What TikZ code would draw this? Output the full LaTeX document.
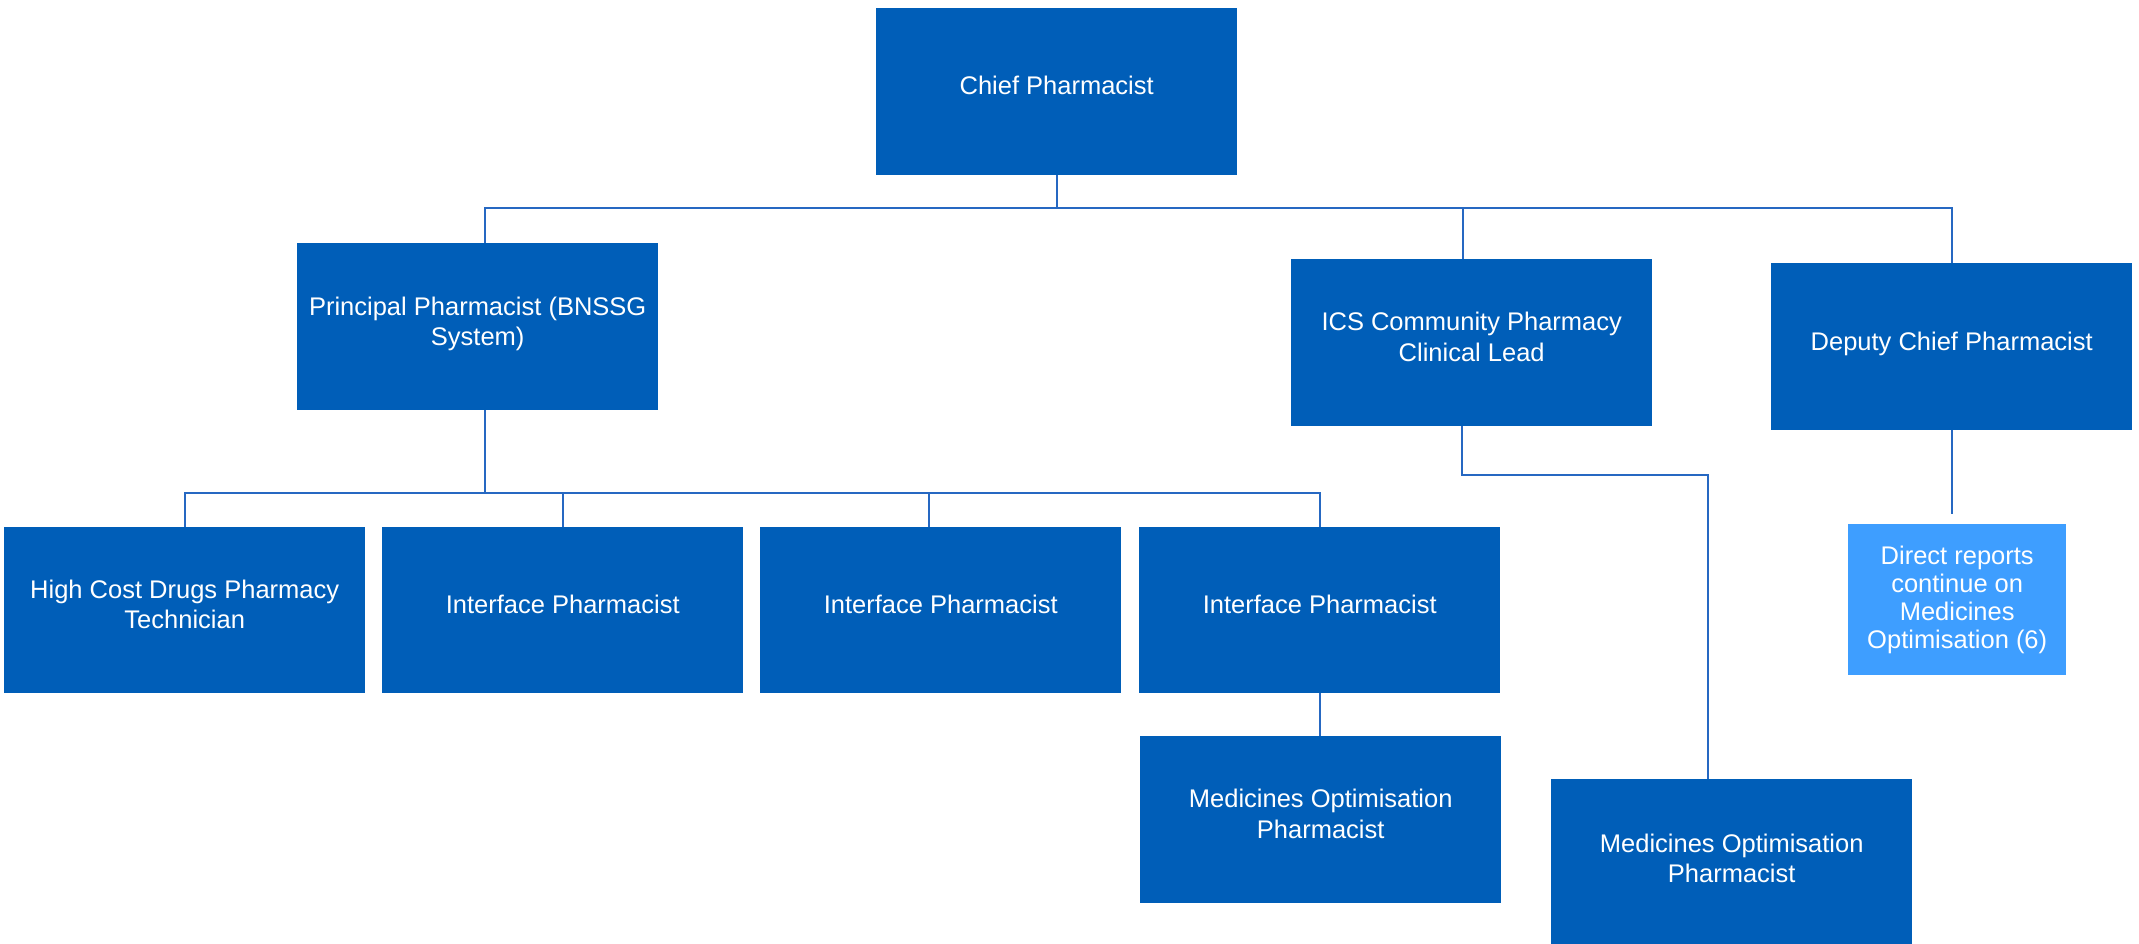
\documentclass[tikz,border=0pt]{standalone}
\usepackage{fontspec}
\setmainfont{Liberation Sans}
\definecolor{boxblue}{RGB}{0,94,184}
\definecolor{lightbox}{RGB}{62,158,255}
\definecolor{linecol}{RGB}{38,104,194}
\tikzset{
  box/.style={fill=boxblue, draw=none, inner sep=0pt, anchor=north west,
    minimum width=361pt, minimum height=167pt},
  lbl/.style={text=white, align=center, yshift=6pt, inner sep=0pt,
    font=\fontsize{25.5}{30.5}\selectfont},
  conn/.style={draw=linecol, line width=1.6pt},
}
\begin{document}
\begin{tikzpicture}[x=1pt,y=-1pt]
\useasboundingbox (0,0) rectangle (2139,944);
\clip (0,0) rectangle (2139,944);
% boxes
\node[box, label={[lbl]center:Chief Pharmacist}] (chief) at (876,8) {};
\node[box, label={[lbl, yshift=-3pt]center:Principal Pharmacist (BNSSG\\System)}] (principal) at (297,243) {};
\node[box, label={[lbl]center:ICS Community Pharmacy\\Clinical Lead}] (ics) at (1291,259) {};
\node[box, label={[lbl, yshift=-3pt]center:Deputy Chief Pharmacist}] (deputy) at (1771,263) {};
\node[box, minimum height=166pt, label={[lbl]center:High Cost Drugs Pharmacy\\Technician}] (hcd) at (4,527) {};
\node[box, minimum height=166pt, label={[lbl]center:Interface Pharmacist}] (int1) at (382,527) {};
\node[box, minimum height=166pt, label={[lbl]center:Interface Pharmacist}] (int2) at (760,527) {};
\node[box, minimum height=166pt, label={[lbl]center:Interface Pharmacist}] (int3) at (1139,527) {};
\node[box, label={[lbl]center:Medicines Optimisation\\Pharmacist}] (mop1) at (1140,736) {};
\node[box, minimum height=170pt, label={[lbl]center:Medicines Optimisation\\Pharmacist}] (mop2) at (1551,779) {};
\node[box, fill=lightbox, minimum width=218pt, minimum height=151pt,
  label={[lbl, yshift=-6pt, font=\fontsize{25.5}{28}\selectfont]center:Direct reports\\continue on\\Medicines\\Optimisation (6)}] (direct) at (1848,524) {};
% connectors
\coordinate (bus1) at (0,208);
\coordinate (bus2) at (0,493);
\coordinate (bend) at (0,475);
\coordinate (dend) at (0,514);
\draw[conn] (chief.south) -- (chief.south |- bus1);
\draw[conn] ([xshift=7pt]principal.north) -- ([xshift=7pt]principal.north |- bus1) -| (deputy.north);
\draw[conn] ([xshift=-9pt]ics.north |- bus1) -- ([xshift=-9pt]ics.north);
\draw[conn] ([xshift=7pt]principal.south) -- ([xshift=7pt]principal.south |- bus2);
\draw[conn] (hcd.north) |- (int3.north |- bus2) -- (int3.north);
\draw[conn] (int1.north |- bus2) -- (int1.north);
\draw[conn] ([xshift=-12pt]int2.north |- bus2) -- ([xshift=-12pt]int2.north);
\draw[conn] (int3.south) -- (mop1.north -| int3.south);
\draw[conn] ([xshift=-10pt]ics.south) -- ([xshift=-10pt]ics.south |- bend) -| ([xshift=-24pt]mop2.north);
\draw[conn] (deputy.south) -- (deputy.south |- dend);
\end{tikzpicture}
\end{document}
